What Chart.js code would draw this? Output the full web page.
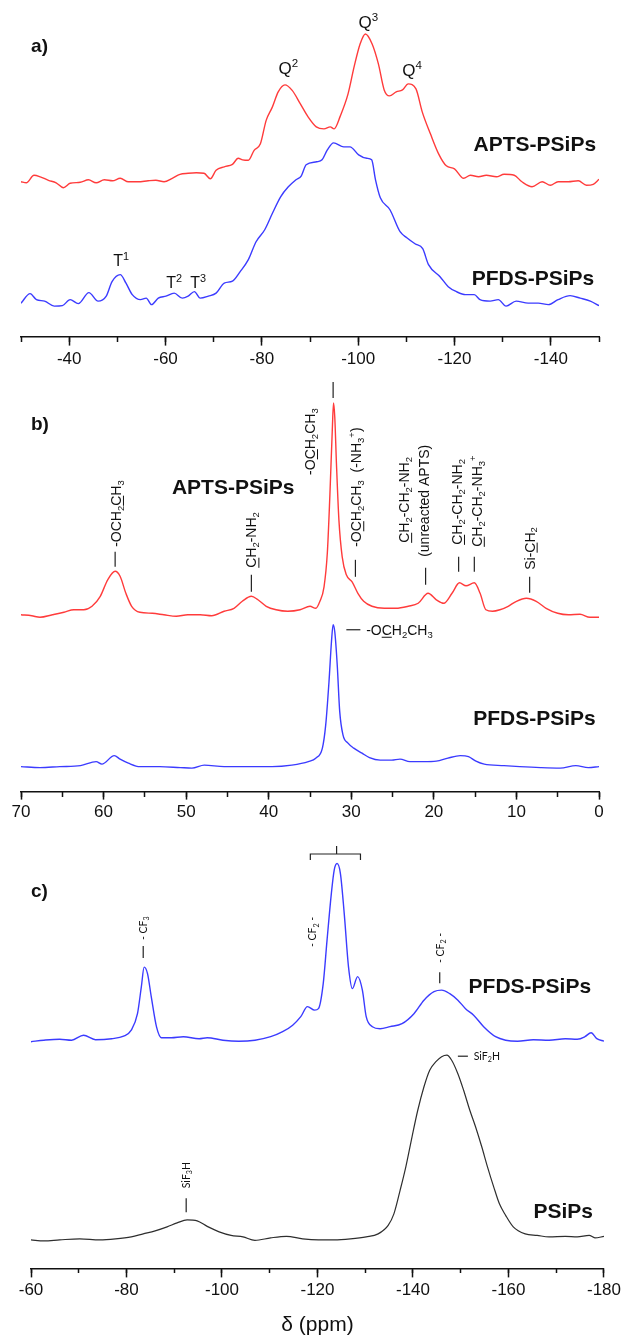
<!DOCTYPE html>
<html>
<head>
<meta charset="utf-8">
<title>Solid-state NMR spectra</title>
<script src="https://cdn.jsdelivr.net/npm/chart.js@4.4.1/dist/chart.umd.min.js"></script>
<style>
  html, body { margin: 0; padding: 0; background: #fff; overflow: hidden; }
  #page { position: relative; width: 624px; height: 1338px; }
  .panel { position: absolute; left: 0; }
  canvas { display: block; }
</style>
</head>
<body>
<div id="page">
  <div class="panel" style="top:0"><canvas id="siChart" width="624" height="374"></canvas></div>
  <div class="panel" style="top:375px"><canvas id="cChart" width="624" height="451"></canvas></div>
  <div class="panel" style="top:830px"><canvas id="fChart" width="624" height="508"></canvas></div>
</div>
<script>
const SANS = '"Liberation Sans", Arial, Helvetica, sans-serif';
const SMALL = 'Lato, "Open Sans", sans-serif';
const RED = '#ff3b3b';
const BLUE = '#3b3bff';
const DARK = '#2e2e2e';

// ---- a) 29Si spectra (chemical shift in ppm, intensity in a.u.) ----
const siShiftApts = [-30, -31.1, -32.7, -34, -35.7, -37.3, -38.8, -40.2, -42.3, -44, -45.6, -47.3, -49, -50.6, -52.3, -54.3, -56.4, -58, -59.7, -61.4,
  -63, -64.7, -66.4, -68, -69.3, -70.5, -72.2, -73.9, -75.1, -76, -77.2, -78.4, -79.7, -80.9, -82.2, -83.4, -84.8, -86.3, -88, -89.6,
  -91.3, -92.9, -94.2, -95, -96.3, -97.9, -99.2, -100.4, -101.5, -102.9, -104.2, -105.4, -106.5, -107.9, -109.2, -110.4, -112, -113.3, -115, -116.7,
  -118.3, -120, -121.9, -123.3, -125, -126.6, -128.7, -130.3, -132.4, -134, -136.1, -138.2, -139.9, -141.5, -143.6, -145.7, -147.4, -148.8, -150];
const siApts = [0, -1, 6.5, 5, 1.5, -1, -6, -1.5, -0.5, 2, -1, 2, 1, 3.5, 0, 0, 1, 1.5, 0, 3.5,
  7.5, 8.5, 9, 8.5, 3, 11.5, 15, 17.5, 23.5, 22, 21.5, 31.5, 38, 61.5, 75, 90, 97, 91.5, 78, 65,
  55, 53, 55, 53, 66, 88, 116, 138, 148, 138, 118, 92, 86, 90, 92, 98, 93, 70, 48, 28,
  16, 13, 3.5, 6.5, 5, 6.5, 5, 7.5, 6.5, 0, -5, 0, -3.5, 0, 0, 1, -3.5, -2.5, 2.5];

const siShiftPfds = [-30, -31.9, -33.2, -34.9, -36.9, -38.6, -40.2, -41.9, -44.1, -46, -47.7, -48.9, -50.6, -51.8, -53.1, -54.8, -56, -57.1, -58.5, -60.1,
  -61.8, -63.5, -64.7, -66, -67.2, -68.9, -70.5, -72.2, -73.9, -75.5, -77.2, -78.8, -80.6, -82.2, -83.9, -85.5, -87.1, -88.2, -89.2, -91.4,
  -92.5, -93.6, -94.9, -97, -98.3, -100.1, -101.8, -102.8, -103.6, -104.6, -106.6, -108.7, -110.1, -111.8, -113.4, -114.6, -117, -118.7, -120.4, -122.3,
  -124.1, -125.3, -127.4, -129.1, -130.7, -132.8, -135.3, -137.4, -139.5, -141.5, -144, -146.1, -148.2, -150];
const siPfds = [-1.5, 8, 2, 0.5, -4.5, -4, 2, -2, 9, 0.5, 5.5, 20, 27, 18.5, 7, 2, 3.5, -3, 3.5, 5.5,
  8.5, 3.5, 5.5, 10, 3.5, 5.5, 8.5, 18.5, 20.5, 30, 42, 60, 72, 88.5, 105, 115, 122, 126, 137, 140,
  142, 152, 159, 155, 155, 147, 143.5, 142, 122, 104, 92, 70, 64, 58, 53, 37, 25, 15, 10, 7,
  7, 2, 0.5, 2, -4.5, 0.5, -1.5, -1.5, -3, 2, 6, 3.5, 0.5, -4];

// ---- b) 13C spectra ----
const cShiftApts = [70, 68.7, 67.7, 66.2, 64.8, 63.6, 62.4, 61.4, 60.4, 59.5, 58.6, 58, 57.3, 56.6, 55.6, 54.1, 52.7, 51.2, 49.8, 48.3,
  46.9, 45.4, 44.2, 43.2, 42.1, 41.3, 40.3, 39.1, 37.7, 36.2, 35, 34.3, 33.8, 33.3, 32.9, 32.6, 32.3, 32.15, 32.0, 31.8,
  31.5, 31.1, 30.6, 29.9, 29.2, 28.5, 27.5, 26, 24.6, 23.1, 21.9, 20.7, 19.7, 18.8, 17.8, 16.9, 16.1, 15.1, 14.4, 13.7,
  12.9, 12, 11, 10, 8.8, 7.6, 6.4, 5, 3.7, 2.3, 1.1, 0];
const cApts = [0, -1, -2.5, 0, 2.5, 5, 5, 8.5, 18.5, 35, 43.5, 38.5, 21.5, 8.5, 2.5, 1.5, 0, -1.5, 0, 0,
  -1, 3.5, 6.5, 13.5, 18.5, 15, 8.5, 5, 3.5, 5, 8.5, 6.5, 13.5, 28, 62, 118, 185, 212, 198, 152,
  95, 58, 40, 33, 21.5, 13.5, 8.5, 6.5, 6.5, 8.5, 11.5, 21.5, 15, 11.5, 21.5, 32, 29, 32, 21.5, 5,
  3.5, 5, 8.5, 13.5, 16.5, 13.5, 6.5, 1.5, 0, 0.5, -2.5, -2.5];

const cShiftPfds = [70, 67.7, 65.3, 62.8, 60.9, 60.2, 58.7, 58, 57, 55.6, 53.2, 50.7, 49.3, 47.8, 45.4, 42.5, 39.6, 37.2, 35.2, 34.3,
  33.5, 33.1, 32.7, 32.4, 32.2, 32.0, 31.7, 31.4, 31, 30.4, 29.7, 28.7, 27.8, 26.5, 25.1, 24.1, 22.9, 21.2, 19.7, 18.3,
  16.8, 15.8, 14.9, 13.9, 11.5, 9.6, 7.1, 4.7, 2.8, 1.3, 0];
const cPfds = [0, -1, 0, 1, 5, 2.5, 11, 7.5, 3.5, 0, 0, -1, -1.5, 1.5, 0, 0, 0, 1.5, 5, 8.5,
  18.5, 41.5, 85, 125, 142, 135, 101.5, 55, 31.5, 23.5, 18.5, 13.5, 9, 6.5, 6.5, 7.5, 5, 5, 5.5, 8.5,
  11, 10, 5.5, 2.5, 1, 0, -1, -1.5, 1, -1, 0];

// ---- c) 19F spectra ----
const fShiftPfds = [-60, -62.7, -66, -68.5, -71, -73.5, -76.9, -79.4, -81, -82.3, -83.1, -83.7, -84.4, -85.2, -86.3, -87.3, -89.4, -91.9, -95.2, -96.9,
  -100.2, -103.5, -106.9, -110.2, -112.7, -114.8, -116.5, -117.9, -119.4, -120.2, -121.2, -122, -122.9, -123.5, -124.1, -124.8, -125.6, -126.5, -127.3, -128.4,
  -129.4, -130.2, -131.5, -133.1, -135.2, -137.7, -140.2, -142.3, -144.4, -146, -147.7, -149.4, -151, -152.7, -154.8, -157.3, -159.4, -161.9, -165.2, -168.5,
  -171.9, -174.4, -176, -177.3, -178.5, -180];
const fPfds = [-1.5, 0, 1, 0, 5, 0.5, 1.5, 4, 10, 26.5, 53, 73, 66.5, 43, 13, 2.5, 2.5, 3.5, 1.5, 2.5,
  0, -1, 0, 3.5, 8.5, 15, 23.5, 33.5, 30, 31.5, 56.5, 100, 146.5, 170, 176.5, 166.5, 126.5, 73, 51.5, 63.5,
  50, 23.5, 13.5, 11.5, 13.5, 16.5, 26.5, 40, 48.5, 50, 46.5, 40, 31.5, 25, 13.5, 3.5, 0, -1, 0.5, 0,
  1.5, 1, 3.5, 7.5, 1.5, -1];

const fShiftPsips = [-60, -62.7, -66, -70.2, -74.4, -77.7, -81, -83.5, -86, -88.5, -90.6, -92.7, -94.8, -96.9, -99.4, -101.9, -104.4, -106.9, -110.2, -113.5,
  -116.9, -120.2, -123.5, -126.9, -130.2, -132.7, -134.8, -136, -137.3, -138.5, -139.8, -141, -142.3, -143.5, -144.8, -146, -147.1, -148.1, -149.4, -150.6,
  -151.9, -153.1, -154.4, -155.6, -156.9, -158.1, -159.4, -161, -163.5, -166, -168.5, -171.9, -174.4, -176.9, -178.1, -180];
const fPsips = [0.5, -0.5, 0.5, 1.5, 0.5, 1.5, 3.5, 6.5, 9.5, 13.5, 17.5, 20.5, 19.5, 14, 8.5, 5, 3.5, 0, 2.5, 4,
  1.5, 0.5, 0.5, 1.5, 3.5, 6.5, 15, 26.5, 50, 73.5, 103.5, 130, 153.5, 170, 178.5, 183.5, 185, 180, 166.5, 150,
  130, 113.5, 93.5, 73.5, 53.5, 36.5, 25, 13.5, 6.5, 5, 3.5, 4, 3.5, 5, 2.5, 4];

// vertical stacking offsets of the traces (a.u.), upper trace first
const siOffsets = [155, 35];
const cOffsets = [177, 25];
const fOffsets = [228, 28];

// peak assignments; "_x" subscript, "^x" superscript, "~x" underlined
const siNotes = [
  { text: 'a)', ppm: -32.1, v: 292, size: 19, weight: 'bold' },
  { text: 'Q^2', ppm: -85.5, v: 269, size: 17, align: 'center' },
  { text: 'Q^3', ppm: -102.1, v: 315, size: 17, align: 'center' },
  { text: 'Q^4', ppm: -111.2, v: 267, size: 17, align: 'center' },
  { text: 'T^1', ppm: -50.8, v: 76, size: 16, align: 'center' },
  { text: 'T^2', ppm: -61.8, v: 54, size: 16, align: 'center' },
  { text: 'T^3', ppm: -66.8, v: 54, size: 16, align: 'center' },
  { text: 'APTS-PSiPs', ppm: -149.4, v: 193, size: 21, weight: 'bold', align: 'right' },
  { text: 'PFDS-PSiPs', ppm: -149.0, v: 59, size: 21, weight: 'bold', align: 'right' }
];

const cNotes = [
  { text: 'b)', ppm: 68.8, v: 369, size: 19, weight: 'bold' },
  { text: 'APTS-PSiPs', ppm: 44.3, v: 305, size: 21, weight: 'bold', align: 'center' },
  { text: '-OCH_2~CH_3', ppm: 58.5, v: 245, size: 14, rot: true },
  { path: [[58.6, 225], [58.6, 240]] },
  { text: '~CH_2-NH_2', ppm: 42.1, v: 224, size: 14, rot: true },
  { path: [[42.1, 200], [42.1, 217]] },
  { text: '-O~CH_2CH_3', ppm: 35.0, v: 317, size: 14, rot: true },
  { path: [[32.2, 394], [32.2, 410]] },
  { text: '-O~CH_2CH_3  (-NH_3^+)', ppm: 29.4, v: 245, size: 14, rot: true },
  { path: [[29.5, 215], [29.5, 232]] },
  { text: '~CH_2-CH_2-NH_2', ppm: 23.6, v: 249, size: 14, rot: true },
  { text: '(unreacted APTS)', ppm: 21.2, v: 235, size: 14, rot: true },
  { path: [[21.0, 207], [21.0, 224]] },
  { text: '~CH_2-CH_2-NH_2', ppm: 17.2, v: 247, size: 14, rot: true },
  { path: [[17.0, 220], [17.0, 235]] },
  { text: '~CH_2-CH_2-NH_3^+', ppm: 14.8, v: 245, size: 14, rot: true },
  { path: [[15.1, 220], [15.1, 235]] },
  { text: 'Si-~CH_2', ppm: 8.4, v: 222, size: 14, rot: true },
  { path: [[8.4, 199], [8.4, 215]] },
  { path: [[30.6, 162], [28.9, 162]] },
  { text: '-O~CH_2CH_3', ppm: 28.2, v: 162, size: 14 },
  { text: 'PFDS-PSiPs', ppm: 0.4, v: 74, size: 21, weight: 'bold', align: 'right' }
];

const fNotes = [
  { text: 'c)', ppm: -60, v: 378, size: 19, weight: 'bold' },
  { path: [[-118.5, 408], [-118.5, 414], [-129.0, 414], [-129.0, 408]] },
  { path: [[-124.0, 414], [-124.0, 422]] },
  { text: '- CF_3', ppm: -83.5, v: 328, size: 10.5, rot: true, family: SMALL },
  { path: [[-83.5, 310], [-83.5, 322]] },
  { text: '- CF_2 -', ppm: -119.0, v: 321, size: 10.5, rot: true, family: SMALL },
  { text: '- CF_2 -', ppm: -145.6, v: 305, size: 10.5, rot: true, family: SMALL },
  { path: [[-145.6, 285], [-145.6, 296]] },
  { text: 'PFDS-PSiPs', ppm: -177.3, v: 283, size: 21, weight: 'bold', align: 'right' },
  { path: [[-149.4, 212], [-151.5, 212]] },
  { text: 'SiF_2H', ppm: -152.7, v: 212, size: 10.5, family: SMALL },
  { text: 'SiF_3H', ppm: -92.5, v: 80, size: 10.5, rot: true, family: SMALL },
  { path: [[-92.5, 56], [-92.5, 70]] },
  { text: 'PSiPs', ppm: -177.7, v: 58, size: 21, weight: 'bold', align: 'right' }
];

function richRuns(str) {
  const runs = [];
  for (let i = 0; i < str.length; i++) {
    const ch = str[i];
    if ((ch === '_' || ch === '^' || ch === '~') && i + 1 < str.length) {
      runs.push({ t: str[i + 1], kind: ch });
      i++;
    } else {
      runs.push({ t: ch, kind: '' });
    }
  }
  return runs;
}

// draws a label with sub/superscripts; y is the vertical centre of the capitals
function drawRich(ctx, str, x, y, size, weight, family, align) {
  const runs = richRuns(str);
  const small = size * 0.68;
  const font = s => `${weight} ${s}px ${family}`;
  let total = 0;
  runs.forEach(r => {
    ctx.font = font(r.kind === '_' || r.kind === '^' ? small : size);
    r.w = ctx.measureText(r.t).width;
    total += r.w;
  });
  let cx = align === 'right' ? x - total : align === 'center' ? x - total / 2 : x;
  const base = y + size * 0.36;
  runs.forEach(r => {
    let by = base;
    if (r.kind === '_') { ctx.font = font(small); by = base + size * 0.2; }
    else if (r.kind === '^') { ctx.font = font(small); by = base - size * 0.42; }
    else ctx.font = font(size);
    ctx.fillText(r.t, cx, by);
    if (r.kind === '~') ctx.fillRect(cx, base + size * 0.14, r.w, Math.max(1, size * 0.07));
    cx += r.w;
  });
}

function notesPlugin(notes) {
  return {
    id: 'peakNotes',
    afterDraw(chart) {
      const { ctx } = chart;
      const xs = chart.scales.x, ys = chart.scales.y;
      ctx.save();
      ctx.textAlign = 'left';
      ctx.textBaseline = 'alphabetic';
      ctx.fillStyle = '#111';
      ctx.strokeStyle = '#222';
      ctx.lineWidth = 1.2;
      notes.forEach(n => {
        if (n.path) {
          ctx.beginPath();
          n.path.forEach(([p, v], i) => {
            const px = xs.getPixelForValue(p), py = ys.getPixelForValue(v);
            if (i) ctx.lineTo(px, py); else ctx.moveTo(px, py);
          });
          ctx.stroke();
          return;
        }
        const px = xs.getPixelForValue(n.ppm), py = ys.getPixelForValue(n.v);
        const fam = n.family || SANS, wt = n.weight || 'normal';
        if (n.rot) {
          ctx.save();
          ctx.translate(px, py);
          ctx.rotate(-Math.PI / 2);
          drawRich(ctx, n.text, 0, 0, n.size, wt, fam, 'left');
          ctx.restore();
        } else {
          drawRich(ctx, n.text, px, py, n.size, wt, fam, n.align || 'left');
        }
      });
      ctx.restore();
    }
  };
}

function spectrumChart(id, cfg) {
  const isMajor = v => Math.abs(v % cfg.major) < 1e-6;
  return new Chart(document.getElementById(id), {
    type: 'line',
    data: {
      datasets: cfg.series.map(s => ({
        data: s.shift.map((d, i) => ({ x: d, y: s.intensity[i] + s.offset })),
        borderColor: s.color,
        borderWidth: s.width || 1.4,
        pointRadius: 0,
        cubicInterpolationMode: 'monotone',
        fill: false,
        xAxisID: 'x',
        yAxisID: 'y'
      }))
    },
    options: {
      responsive: false,
      animation: false,
      events: [],
      layout: { padding: { left: cfg.left, right: cfg.right, top: 0, bottom: 0 } },
      plugins: { legend: { display: false }, tooltip: { enabled: false } },
      scales: {
        x: {
          type: 'linear', axis: 'x', position: 'bottom',
          min: cfg.min, max: cfg.max, reverse: true,
          border: { display: true, color: '#111', width: 1.6 },
          grid: {
            drawOnChartArea: false, tickLength: cfg.tickLong, tickWidth: 1.5,
            tickColor: c => (c.tick && isMajor(c.tick.value)) ? '#111' : 'rgba(0,0,0,0)'
          },
          ticks: {
            stepSize: cfg.minor, autoSkip: false, maxRotation: 0, padding: cfg.pad,
            color: '#111', font: { family: SANS, size: 17 },
            callback: v => isMajor(v) ? String(v) : ''
          },
          title: cfg.title || { display: false }
        },
        xm: {
          type: 'linear', axis: 'x', position: { y: 0 },
          min: cfg.min, max: cfg.max, reverse: true,
          border: { display: false },
          grid: { drawOnChartArea: false, tickLength: 5, tickWidth: 1.5, tickColor: '#111' },
          ticks: { stepSize: cfg.minor, autoSkip: false, maxRotation: 0, callback: () => '' }
        },
        y: { type: 'linear', display: false, min: 0, max: cfg.height }
      }
    },
    plugins: [notesPlugin(cfg.notes)]
  });
}

spectrumChart('siChart', {
  min: -150, max: -30, minor: 10, major: 20, tickLong: 9, pad: 4,
  left: 21, right: 25, height: 337, notes: siNotes,
  series: [
    { shift: siShiftApts, intensity: siApts, offset: siOffsets[0], color: RED },
    { shift: siShiftPfds, intensity: siPfds, offset: siOffsets[1], color: BLUE }
  ]
});

spectrumChart('cChart', {
  min: 0, max: 70, minor: 5, major: 10, tickLong: 8, pad: 3,
  left: 21, right: 25, height: 417, notes: cNotes,
  series: [
    { shift: cShiftApts, intensity: cApts, offset: cOffsets[0], color: RED },
    { shift: cShiftPfds, intensity: cPfds, offset: cOffsets[1], color: BLUE }
  ]
});

spectrumChart('fChart', {
  min: -180, max: -60, minor: 10, major: 20, tickLong: 9, pad: 3,
  left: 31, right: 17, height: 438, notes: fNotes,
  title: { display: true, text: 'δ (ppm)', color: '#111', font: { family: SANS, size: 21 }, padding: { top: 9, bottom: 0 } },
  series: [
    { shift: fShiftPfds, intensity: fPfds, offset: fOffsets[0], color: BLUE },
    { shift: fShiftPsips, intensity: fPsips, offset: fOffsets[1], color: DARK, width: 1.2 }
  ]
});
</script>
</body>
</html>
